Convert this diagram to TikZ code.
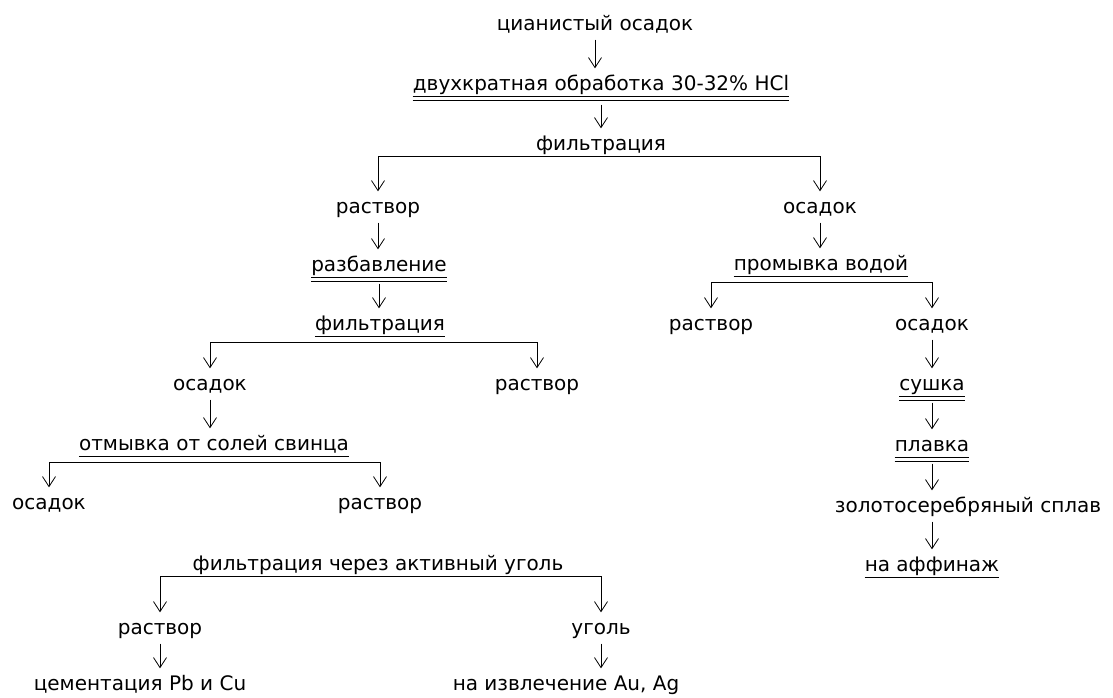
\documentclass[tikz,border=0pt]{standalone}
\usepackage{fontspec}
\setmainfont{DejaVu Sans}
\usetikzlibrary{arrows.meta}

\begin{document}
\begin{tikzpicture}[x=1pt,y=-1pt,
    every node/.style={font=\fontsize{20}{24}\selectfont,inner sep=0pt,
                       text height=15pt,text depth=6pt},
    flow/.style={-{Straight Barb[length=10pt,width=13pt]},line width=0.8pt,
                 shorten >=7pt},
    uline/.style={line width=0.8pt}]
  \useasboundingbox (0,0) rectangle (1113,697);

  % main line
  \node (cyan)  at (595,26)  {цианистый осадок};
  \node (hcl)   at (601,86)  {двухкратная обработка 30-32\% HCl};
  \node (filt1) at (601,146) {фильтрация};

  % left branch
  \node (sol1)  at (378,209) {раствор};
  \node (dil)   at (379,267) {разбавление};
  \node (filt2) at (380,326) {фильтрация};
  \node (prec2) at (210,386) {осадок};
  \node (sol2)  at (537,386) {раствор};
  \node (lead)  at (214,446) {отмывка от солей свинца};
  \node (prec3) at (49,505)  {осадок};
  \node (sol3)  at (380,505) {раствор};
  \node (carb)  at (378,566) {фильтрация через активный уголь};
  \node (sol4)  at (160,630) {раствор};
  \node (coal)  at (601,630) {уголь};
  \node (cem)   at (140,686) {цементация Pb и Cu};
  \node (rec)   at (566,686) {на извлечение Au, Ag};

  % right branch
  \node (prec1)  at (820,209) {осадок};
  \node (wash)   at (821,266) {промывка водой};
  \node (sol5)   at (711,326) {раствор};
  \node (prec4)  at (932,326) {осадок};
  \node (dry)    at (932,386) {сушка};
  \node (melt)   at (932,447) {плавка};
  \node (alloy)  at (968,508) {золотосеребряный сплав};
  \node (refine) at (932,567) {на аффинаж};

  % underlines (double ones under the operations)
  \foreach \n in {hcl,dil,dry,melt}{
    \draw[uline] (\n.south west) -- (\n.south east);
    \draw[uline] ([yshift=-3.5pt]\n.south west) -- ([yshift=-3.5pt]\n.south east);
  }
  \foreach \n in {filt2,lead,wash,refine}
    \draw[uline] (\n.south west) -- (\n.south east);

  % branch points
  \coordinate (b1) at (filt1.south);
  \coordinate (b2) at ([yshift=-6pt]filt2.south);
  \coordinate (b3) at ([yshift=-6pt]lead.south);
  \coordinate (b4) at (carb.south);
  \coordinate (b5) at ([yshift=-6pt]wash.south);

  \draw[flow] (b1) -| (sol1);  \draw[flow] (b1) -| (prec1);
  \draw[flow] (b2) -| (prec2); \draw[flow] (b2) -| (sol2);
  \draw[flow] (b3) -| (prec3); \draw[flow] (b3) -| (sol3);
  \draw[flow] (b4) -| (sol4);  \draw[flow] (b4) -| (coal);
  \draw[flow] (b5) -| (sol5);  \draw[flow] (b5) -| (prec4);

  % straight arrows
  \draw[flow,shorten <=3pt] (cyan)  -- (cyan |- hcl.north);
  \draw[flow,shorten <=8pt] (hcl)   -- (hcl |- filt1.north);
  \draw[flow,shorten <=3pt] (sol1)  -- (sol1 |- dil.north);
  \draw[flow,shorten <=6pt] (dil)   -- (dil |- filt2.north);
  \draw[flow,shorten <=3pt] (prec2) -- (prec2 |- lead.north);
  \draw[flow,shorten <=3pt] (sol4)  -- (sol4 |- cem.north);
  \draw[flow,shorten <=3pt] (coal)  -- (coal |- rec.north);
  \draw[flow,shorten <=3pt] (prec1) -- (prec1 |- wash.north);
  \draw[flow,shorten <=3pt] (prec4) -- (dry);
  \draw[flow,shorten <=6pt] (dry)   -- (melt);
  \draw[flow,shorten <=6pt] (melt)  -- (melt |- alloy.north);
  \draw[flow,shorten <=3pt] (alloy.south -| refine) -- (refine);
\end{tikzpicture}
\end{document}
